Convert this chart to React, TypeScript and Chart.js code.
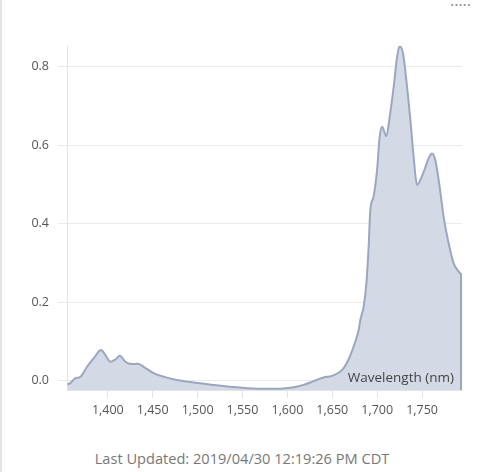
import React, { useEffect, useRef } from "react";
import { Chart, registerables } from "chart.js";

Chart.register(...registerables);

const wavelengths = [
  1355, 1357.7, 1364, 1369.5, 1377, 1384.3, 1392.5, 1397.3, 1403, 1408.5, 1413.3, 1419.6,
  1426, 1433.3, 1441.9, 1451, 1462, 1475.3, 1495.7, 1518, 1544, 1570, 1595, 1607, 1618,
  1625.6, 1633, 1640.4, 1649.7, 1657, 1662.7, 1668, 1673.8, 1679.4, 1681.3, 1685, 1688,
  1690.5, 1692.4, 1696, 1699.9, 1702.8, 1705.5, 1710.2, 1714, 1718.4, 1722.2, 1725,
  1728.8, 1732.5, 1737, 1740.6, 1744.4, 1751.8, 1757.4, 1761.1, 1764.8, 1769.6, 1774,
  1779.6, 1785.2, 1790.8, 1794.5,
];
const absorbance = [
  -0.01, -0.007, 0.006, 0.01, 0.036, 0.057, 0.078, 0.065, 0.048, 0.054, 0.063, 0.048,
  0.042, 0.043, 0.032, 0.019, 0.01, 0.002, -0.005, -0.011, -0.017, -0.021, -0.02, -0.017,
  -0.011, -0.005, 0.002, 0.008, 0.012, 0.02, 0.032, 0.053, 0.087, 0.129, 0.155, 0.189,
  0.248, 0.341, 0.435, 0.469, 0.537, 0.622, 0.647, 0.623, 0.673, 0.749, 0.825, 0.853,
  0.834, 0.766, 0.664, 0.571, 0.499, 0.532, 0.567, 0.579, 0.562, 0.494, 0.418, 0.35,
  0.299, 0.278, 0.269,
];
const xTitle = "Wavelength (nm)";
const footerText = "Last Updated: 2019/04/30 12:19:26 PM CDT";

const FONT = "'Open Sans', 'Noto Sans', sans-serif";
const LINE = "#9aa7bf";

const innerTitle = {
  id: "innerTitle",
  afterDatasetsDraw(chart: any) {
    const { ctx, chartArea } = chart;
    const pts = chart.getDatasetMeta(0).data;
    const last = pts[pts.length - 1];
    ctx.save();
    ctx.strokeStyle = LINE;
    ctx.lineWidth = 2;
    ctx.beginPath();
    ctx.moveTo(last.x - 1, last.y);
    ctx.lineTo(last.x - 1, chartArea.bottom);
    ctx.stroke();
    ctx.restore();
  },
  afterDraw(chart: any) {
    const { ctx, chartArea } = chart;
    ctx.save();
    ctx.font = `13.5px ${FONT}`;
    ctx.fillStyle = "#444";
    ctx.textAlign = "right";
    ctx.textBaseline = "alphabetic";
    ctx.fillText(xTitle, chartArea.right - 8, chartArea.bottom - 8);
    ctx.restore();
  },
};

export default function App() {
  const ref = useRef<HTMLCanvasElement>(null);
  useEffect(() => {
    document.body.style.margin = "0";
    const chart = new Chart(ref.current as HTMLCanvasElement, {
      type: "line",
      data: {
        datasets: [
          {
            data: wavelengths.map((w, i) => ({ x: w, y: absorbance[i] })),
            borderColor: LINE,
            backgroundColor: "#d3dae6",
            borderWidth: 2,
            fill: "start",
            pointRadius: 0,
            cubicInterpolationMode: "monotone",
          },
        ],
      },
      plugins: [innerTitle],
      options: {
        animation: false,
        responsive: false,
        maintainAspectRatio: false,
        layout: { padding: { top: 46, right: 22, left: 0, bottom: 0 } },
        plugins: { legend: { display: false }, tooltip: { enabled: false } },
        scales: {
          x: {
            type: "linear",
            min: 1354.5,
            max: 1794.5,
            afterFit: (s: any) => {
              s.height = 40;
            },
            grid: { drawOnChartArea: false, tickLength: 8, color: "#e3e3e3" },
            border: { color: "#e3e3e3" },
            ticks: {
              stepSize: 50,
              includeBounds: false,
              padding: 5,
              color: "#555",
              font: { family: FONT, size: 12.5 },
              maxRotation: 0,
              callback: (v: any) => Number(v).toLocaleString("en-US"),
            },
          },
          y: {
            min: -0.024,
            max: 0.853,
            afterFit: (s: any) => {
              s.width = 67;
            },
            grid: { color: "#ebebeb", tickLength: 9 },
            border: { color: "#e3e3e3" },
            ticks: {
              stepSize: 0.2,
              includeBounds: false,
              padding: 9,
              color: "#555",
              font: { family: FONT, size: 12.5 },
              callback: (v: any) => Number(v).toFixed(1),
            },
          },
        },
      },
    });
    return () => chart.destroy();
  }, []);

  return (
    <div style={{ position: "relative", width: 484, height: 472, background: "#fff", overflow: "hidden" }}>
      <div style={{ position: "absolute", left: 0, top: 0, width: 2, height: 472, background: "#e4e4e4" }} />
      <div
        style={{
          position: "absolute",
          right: 13,
          top: -11,
          fontFamily: FONT,
          fontSize: 16,
          color: "#888",
          letterSpacing: 0,
        }}
      >
        .....
      </div>
      <canvas ref={ref} width={484} height={430} style={{ position: "absolute", left: 0, top: 0 }} />
      <div
        style={{
          position: "absolute",
          left: 0,
          width: 484,
          top: 448,
          textAlign: "center",
          fontFamily: FONT,
          fontSize: 14.6,
          color: "#777",
        }}
      >
        {footerText}
      </div>
    </div>
  );
}
